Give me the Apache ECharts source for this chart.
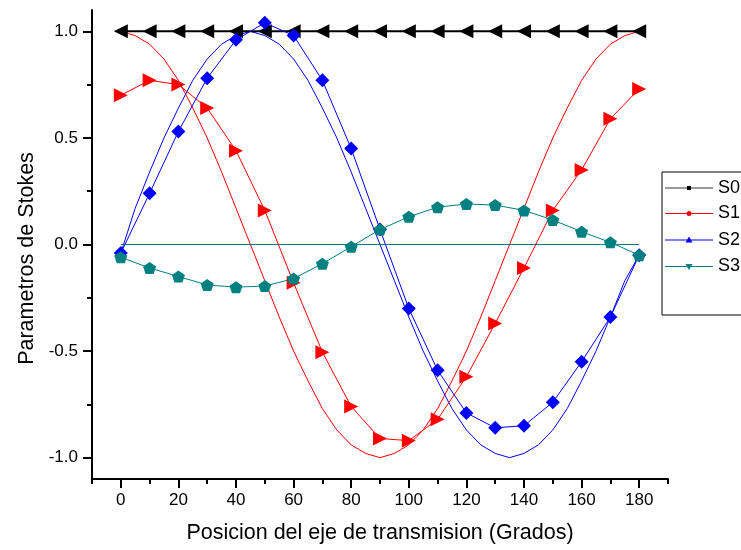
<!DOCTYPE html>
<html><head><meta charset="utf-8">
<script src="https://cdn.jsdelivr.net/npm/echarts@6/dist/echarts.min.js"></script>
<style>html,body{margin:0;padding:0;background:#fff}#c{width:741px;height:550px}</style>
</head><body><div id="c"></div>
<script>
// ---- data ----
const anglesMeas = [0,10,20,30,40,50,60,70,80,90,100,110,120,130,140,150,160,170,180];
const anglesTheo = [0,5,10,15,20,25,30,35,40,45,50,55,60,65,70,75,80,85,90,95,100,105,110,115,120,125,130,135,140,145,150,155,160,165,170,175,180];

const s0Meas = [1,1,1,1,1,1,1,1,1,1,1,1,1,1,1,1,1,1,1];
const s1Meas = [0.70,0.77,0.75,0.64,0.44,0.16,-0.18,-0.505,-0.76,-0.91,-0.92,-0.82,-0.62,-0.37,-0.11,0.16,0.35,0.59,0.73];
const s2Meas = [-0.04,0.24,0.53,0.78,0.96,1.04,0.98,0.77,0.45,0.07,-0.30,-0.59,-0.79,-0.86,-0.85,-0.74,-0.55,-0.34,-0.05];
const s3Meas = [-0.06,-0.11,-0.15,-0.19,-0.20,-0.195,-0.16,-0.09,-0.01,0.07,0.13,0.175,0.19,0.185,0.16,0.115,0.06,0.01,-0.05];

const s1Theo = [1.00,0.98,0.94,0.87,0.77,0.64,0.50,0.34,0.17,0.00,-0.17,-0.34,-0.50,-0.64,-0.77,-0.87,-0.94,-0.98,-1.00,-0.98,-0.94,-0.87,-0.77,-0.64,-0.50,-0.34,-0.17,0.00,0.17,0.34,0.50,0.64,0.77,0.87,0.94,0.98,1.00];
const s2Theo = [-0.04,0.17,0.34,0.50,0.64,0.77,0.87,0.94,0.98,1.00,0.98,0.94,0.87,0.77,0.64,0.50,0.34,0.17,0.00,-0.17,-0.34,-0.50,-0.64,-0.77,-0.87,-0.94,-0.98,-1.00,-0.98,-0.94,-0.87,-0.77,-0.64,-0.50,-0.34,-0.17,-0.05];
const s3Theo = [0,0,0,0,0,0,0,0,0,0,0,0,0,0,0,0,0,0,0,0,0,0,0,0,0,0,0,0,0,0,0,0,0,0,0,0,0];

const xMajorTicks = [0,20,40,60,80,100,120,140,160,180];
const xMinorTicks = [-10,10,30,50,70,90,110,130,150,170,190];
const yMajorTicks = [-1,-0.5,0,0.5,1];
const yMinorTicks = [-0.75,-0.25,0.25,0.75];

const legendNames = ['S0','S1','S2','S3'];
const colors = {black:'#000000', red:'#FF0000', blue:'#0000FF', teal:'#008080'};

// ---- chart ----
const FONT = "'Liberation Sans', Arial, sans-serif";
const pair = (xs, ys) => xs.map((x, i) => [x, ys[i]]);
const pentagon = 'path://M0,-1 L0.951,-0.309 L0.588,0.809 L-0.588,0.809 L-0.951,-0.309 Z';

const chart = echarts.init(document.getElementById('c'), null, {renderer: 'canvas'});

function lineSeries(data, color, width, symbol, size, rotate, z) {
  return {
    type: 'line', data: data, silent: true, z: z,
    symbol: symbol || 'none', symbolSize: size || 0, symbolRotate: rotate || 0,
    showSymbol: !!symbol, smooth: false,
    lineStyle: {color: color, width: width},
    itemStyle: {color: color, borderWidth: 0},
    emphasis: {disabled: true}
  };
}

const axisLineStyle = {show: true, onZero: false, lineStyle: {color: '#000', width: 2}};

const legendGraphics = [{
  type: 'rect', z: 100,
  shape: {x: 662, y: 172, width: 100, height: 143},
  style: {fill: '#fff', stroke: '#000', lineWidth: 1}
}];
const legendColors = ['#333333', colors.red, colors.blue, colors.teal];
const legendY = [188, 213.5, 240, 266.5];
legendNames.forEach((n, i) => {
  const y = legendY[i];
  legendGraphics.push({type: 'line', z: 101, shape: {x1: 665, y1: y, x2: 713, y2: y},
    style: {stroke: legendColors[i], lineWidth: 1}});
  let marker;
  if (i === 0) marker = {type: 'rect', shape: {x: 687, y: y - 2, width: 4, height: 4}, style: {fill: '#000'}};
  else if (i === 1) marker = {type: 'circle', shape: {cx: 689, cy: y, r: 2.5}, style: {fill: colors.red}};
  else if (i === 2) marker = {type: 'polygon', shape: {points: [[689, y - 3.5], [692.5, y + 2.5], [685.5, y + 2.5]]}, style: {fill: colors.blue}};
  else marker = {type: 'polygon', shape: {points: [[689, y + 3.5], [692.5, y - 2.5], [685.5, y - 2.5]]}, style: {fill: colors.teal}};
  marker.z = 102;
  legendGraphics.push(marker);
  legendGraphics.push({type: 'text', z: 102, x: 718, y: y,
    style: {text: n, fill: '#000', font: '18px ' + FONT, textVerticalAlign: 'middle', textAlign: 'left'}});
});

chart.setOption({
  animation: false,
  backgroundColor: '#fff',
  grid: {left: 92, right: 73, top: 10, bottom: 71},
  xAxis: [{
    type: 'value', min: -10, max: 190, position: 'bottom',
    name: 'Posicion del eje de transmision (Grados)', nameLocation: 'middle', nameGap: 43,
    nameTextStyle: {fontFamily: FONT, fontSize: 21.5, color: '#000'},
    axisLine: axisLineStyle,
    axisTick: {show: true, inside: false, length: 9, customValues: xMajorTicks, lineStyle: {color: '#000', width: 2}},
    axisLabel: {show: true, customValues: xMajorTicks, margin: 13, fontFamily: FONT, fontSize: 17, color: '#000',
      formatter: v => String(v)},
    splitLine: {show: false}
  }, {
    type: 'value', min: -10, max: 190, position: 'bottom', offset: 0,
    axisLine: {show: false, onZero: false},
    axisTick: {show: true, inside: false, length: 5, customValues: xMinorTicks, lineStyle: {color: '#000', width: 2}},
    axisLabel: {show: false},
    splitLine: {show: false}
  }],
  yAxis: [{
    type: 'value', min: -1.1, max: 1.1, position: 'left',
    name: 'Parametros de Stokes', nameLocation: 'middle', nameGap: 53,
    nameTextStyle: {fontFamily: FONT, fontSize: 21.5, color: '#000', padding: [0, 28, 0, 0]},
    axisLine: axisLineStyle,
    axisTick: {show: true, inside: false, length: 9, customValues: yMajorTicks, lineStyle: {color: '#000', width: 2}},
    axisLabel: {show: true, customValues: yMajorTicks, margin: 14, fontFamily: FONT, fontSize: 17, color: '#000',
      formatter: v => Number(v).toFixed(1)},
    splitLine: {show: false}
  }, {
    type: 'value', min: -1.1, max: 1.1, position: 'left', offset: 0,
    axisLine: {show: false, onZero: false},
    axisTick: {show: true, inside: false, length: 5, customValues: yMinorTicks, lineStyle: {color: '#000', width: 2}},
    axisLabel: {show: false},
    splitLine: {show: false}
  }],
  graphic: legendGraphics,
  series: [
    lineSeries(pair(anglesTheo, s1Theo), colors.red, 1, null, 0, 0, 2),
    lineSeries(pair(anglesTheo, s2Theo), colors.blue, 1, null, 0, 0, 2),
    lineSeries(pair(anglesTheo, s3Theo), colors.teal, 1.2, null, 0, 0, 2),
    lineSeries(pair(anglesMeas, s0Meas), colors.black, 2, 'triangle', [14, 14], 90, 3),
    lineSeries(pair(anglesMeas, s1Meas), colors.red, 1, 'triangle', [14, 14], -90, 4),
    lineSeries(pair(anglesMeas, s2Meas), colors.blue, 1, 'diamond', 14, 0, 5),
    lineSeries(pair(anglesMeas, s3Meas), colors.teal, 1, pentagon, [13, 12], 0, 6)
  ]
});
</script>
</body></html>
